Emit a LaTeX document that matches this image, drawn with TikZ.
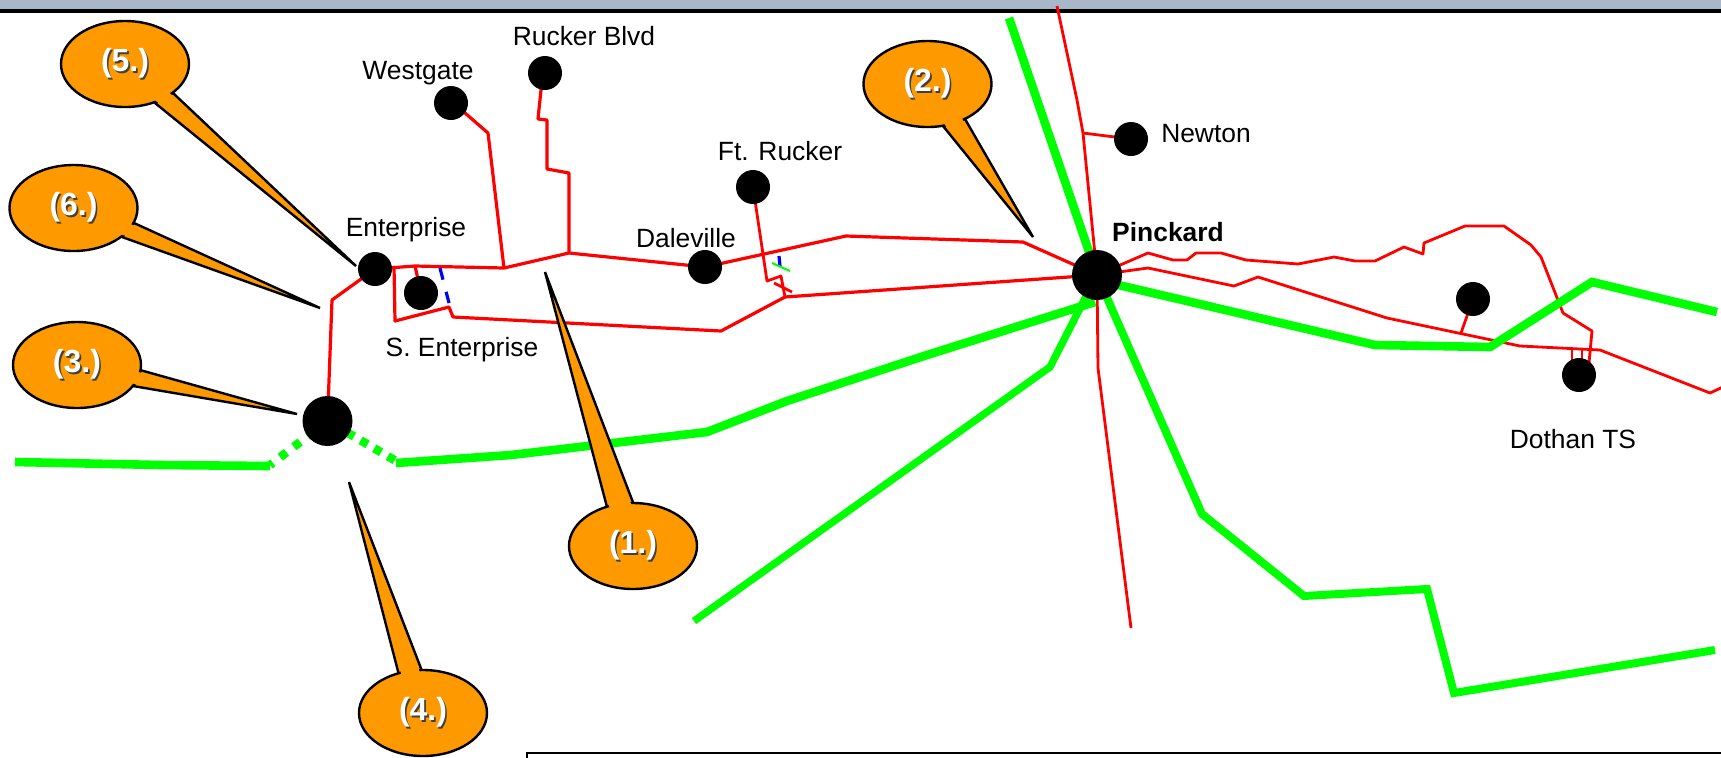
\documentclass[tikz,border=0pt]{standalone}
\usepackage{fontspec}
\setmainfont{Liberation Sans}
\usetikzlibrary{calc,shapes.geometric,backgrounds}
\definecolor{calloutfill}{HTML}{FF9900}
\definecolor{bandcol}{HTML}{A8B8C8}
\definecolor{linegreen}{HTML}{00FF00}
\definecolor{linered}{HTML}{FF0000}
\definecolor{lineblue}{HTML}{0000FF}
\tikzset{
  redline/.style={draw=linered,line width=1.6pt,line join=round},
  thinred/.style={draw=linered,line width=1.4pt,line join=round},
  greenline/.style={draw=linegreen,line width=#1,line join=miter},
  greenline/.default=4.3pt,
  blueline/.style={draw=lineblue,line width=1.6pt},
  dotsmall/.style={circle,fill=black,inner sep=0pt,minimum size=17pt},
  dotbig/.style={circle,fill=black,inner sep=0pt,minimum size=25pt},
  maplabel/.style={inner sep=0pt,font=\fontsize{13.2pt}{15pt}\selectfont,text=black},
  boldlabel/.style={maplabel,font=\fontsize{13.2pt}{15pt}\selectfont\bfseries},
  bubble/.style={ellipse,draw=black,fill=calloutfill,line width=1.2pt,inner sep=0pt,minimum width=64pt,minimum height=43pt},
  tail/.style={draw=black,fill=calloutfill,line width=1.2pt,line join=bevel},
}
\newcommand{\shadowtxt}[1]{\raisebox{-1.8pt}{\fontsize{16pt}{18pt}\selectfont\bfseries\makebox[0pt][l]{\hspace{0.8pt}\raisebox{-0.8pt}{\textcolor{black!75}{#1}}}\textcolor{white}{#1}}}
% name, centre, base point A, base point B, tip, label
\newcommand{\balloon}[6]{%
  \coordinate (#1A) at (#3);
  \coordinate (#1B) at (#4);
  \coordinate (#1T) at (#5);
  \draw[tail] (#1A) -- (#1T) -- (#1B) -- cycle;
  \node[bubble] (#1) at (#2) {\shadowtxt{#6}};
  \coordinate (#1P) at ($(#1A)!.07!(#1T)$);
  \coordinate (#1Q) at ($(#1B)!.07!(#1T)$);
  \fill[calloutfill] ($(#1)!.75!(#1A)$) -- ($(#1A)!1.2pt!(#1B)$) -- ($(#1P)!1.2pt!(#1Q)$) -- ($(#1Q)!1.2pt!(#1P)$) -- ($(#1B)!1.2pt!(#1A)$) -- ($(#1)!.75!(#1B)$) -- cycle;
}
\begin{document}
\begin{tikzpicture}[x=0.5pt,y=-0.5pt]
\useasboundingbox (0,0) rectangle (1721,757);

% stations
\node[dotsmall] (ent) at (375,269) {};
\node[dotsmall] (sent) at (421,293) {};
\node[dotsmall] (west) at (451,103) {};
\node[dotsmall] (ruck) at (545,73) {};
\node[dotsmall] (dale) at (705,267) {};
\node[dotsmall] (ftr) at (753,187) {};
\node[dotsmall] (newt) at (1131,139) {};
\node[dotsmall] (unn) at (1473,299) {};
\node[dotsmall] (doth) at (1579,375) {};
\node[dotbig] (pink) at (1097,275) {};
\node[dotbig] (sub) at (327.5,421) {};

\begin{pgfonlayer}{background}
\fill[white] (0,0) rectangle (1721,757);
\fill[bandcol] (0,0) rectangle (1721,9);
\fill[black] (0,9) rectangle (1721,12.5);
% red network
\draw[redline] (ent.center) -- (415,266) -- (504,268) -- (569,253) -- (dale.center);
\draw[redline] (415,266) -- (sent.center);
\draw[redline] (394,266) -- (395,321) -- (449,307) -- (453,317) -- (721,331) -- (785,297) -- (pink.center);
\draw[redline] (ent.center) -- (332,300) -- (sub.center);
\draw[redline] (west.center) -- (465,113) -- (488,133) -- (504,268);
\draw[redline] (ruck.center) -- (541,90) -- (538,119) -- (547,120) -- (547,169) -- (569,173) -- (569,253);
\draw[redline] (dale.center) -- (846,236) -- (1023,242) -- (pink.center);
\draw[thinred] (ftr.center) -- (767,281) -- (781,276) -- (785,297);
\draw[thinred] (774,283) -- (792,292);
\draw[thinred] (1057,6) -- (1077,100) -- (1083,133) -- (pink.center);
\draw[thinred] (1083,133) -- (newt.center);
\draw[thinred] (pink.center) -- (1098,368) -- (1131,628);
\draw[thinred] (pink.center) -- (1148,253) -- (1173,260) -- (1187,260) -- (1196,253) -- (1221,253) -- (1246,260) -- (1298,264) -- (1334,257) -- (1355,261) -- (1375,261) -- (1404,247) -- (1423,254) -- (1424,243) -- (1465,226) -- (1504,226) -- (1531,245) -- (1541,257) -- (1563,313) -- (1592,331) -- (1589,363);
\draw[thinred] (pink.center) -- (1148,268) -- (1234,286) -- (1258,277) -- (1387,318) -- (1520,346) -- (1600,350) -- (1710,393) -- (1725,386);
\draw[thinred] (unn.center) -- (1461,333);
\draw[thinred] (1572,349) -- (1572,365);
\draw[thinred] (1582,349) -- (1582,365);
% blue ties
\draw[blueline,dash pattern=on 6pt off 6.3pt] (440,268) -- (449,303);
\draw[blueline] (779,256) -- (780,266);
\draw[draw=linegreen,line width=1pt] (772,263) -- (790,271);
% green network
\draw[greenline] (1009,18) -- (pink.center);
\draw[greenline] (15,462) -- (161,465) -- (270,466);
\draw[greenline,dash pattern=on 4pt off 4.6pt] (sub.center) -- (270,465);
\draw[greenline,dash pattern=on 4pt off 3.85pt,dash phase=4.35pt] (sub.center) -- (396,461);
\draw[greenline] (396,463) -- (511,455) -- (707,432) -- (787,401) -- (927,355) -- (1095,302);
\draw[greenline=3.7pt] (694,621) -- (1050,367) -- (pink.center);
\draw[greenline=4pt] (pink.center) -- (1202,514) -- (1304,596) -- (1427,589) -- (1454,693) -- (1715,650);
\draw[greenline] (1097,280) -- (1375,345) -- (1490,347) -- (1592,282) -- (1717,312);
\end{pgfonlayer}

% labels
\node[maplabel] (lent) at (406,230) {Enterprise};
\node[maplabel] (lsent) at (462,350) {S. Enterprise};
\node[maplabel] (lwest) at (418,73) {Westgate};
\node[maplabel] (lruck) at (584,36) {Rucker Blvd};
\node[maplabel] (ldale) at (686,238) {Daleville};
\node[maplabel] (lftr) at (780,151) {Ft. Rucker};
\node[maplabel] (lnewt) at (1206,134) {Newton};
\node[boldlabel] (lpink) at (1168,232) {Pinckard};
\node[maplabel] (ldoth) at (1573,439) {Dothan TS};

% callouts
\balloon{c5}{125,64}{173,93}{155,103}{356,266}{(5.)}
\balloon{c6}{73.5,208}{134,223}{122,237}{320,308}{(6.)}
\balloon{c3}{77,365}{140,370}{133,386}{297,414}{(3.)}
\balloon{c4}{423,713}{422,671}{399,675}{349,482}{(4.)}
\balloon{c1}{633,546}{634,505}{607,507}{545,272}{(1.)}
\balloon{c2}{927.5,84}{965,119}{943,126}{1033,237}{(2.)}

% bottom box
\draw[black,line width=1.2pt,fill=white] (527,753) rectangle (1740,790);
\end{tikzpicture}
\end{document}
